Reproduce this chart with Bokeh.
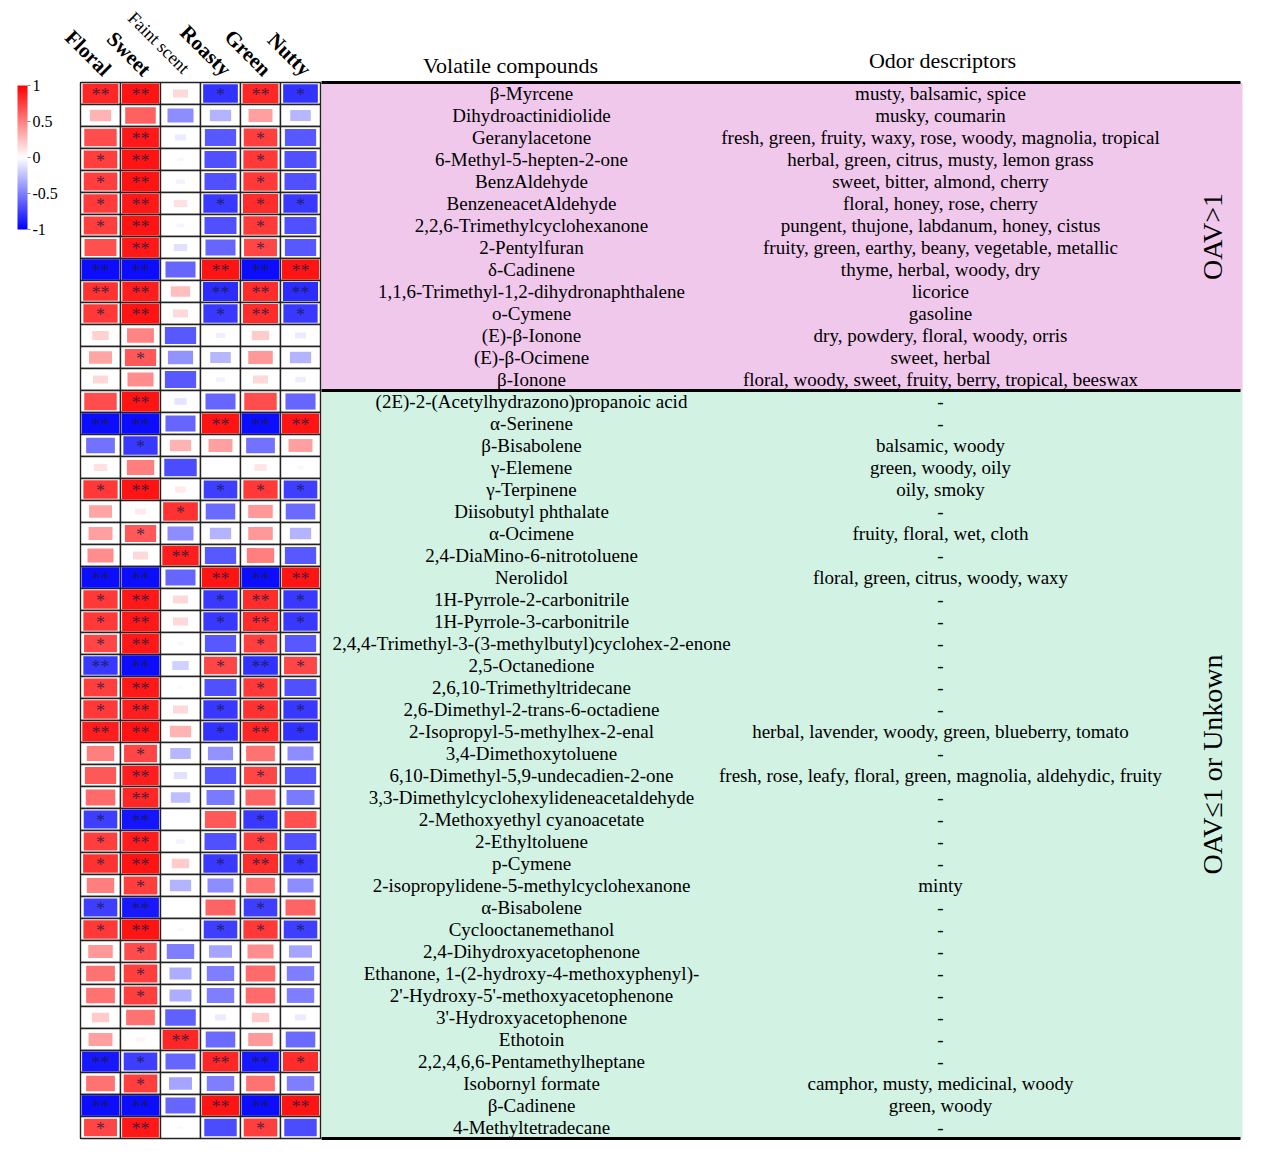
import math
from bokeh.plotting import figure
from bokeh.models import ColumnDataSource, Range1d, LinearColorMapper, ColorBar, FixedTicker
from bokeh.transform import transform
from bokeh.core.properties import value
from bokeh.embed import file_html
from bokeh.resources import INLINE

attributes = ["Floral", "Sweet", "Faint scent", "Roasty", "Green", "Nutty"]

compounds = [
    "β-Myrcene", "Dihydroactinidiolide", "Geranylacetone", "6-Methyl-5-hepten-2-one",
    "BenzAldehyde", "BenzeneacetAldehyde", "2,2,6-Trimethylcyclohexanone", "2-Pentylfuran",
    "δ-Cadinene", "1,1,6-Trimethyl-1,2-dihydronaphthalene", "o-Cymene", "(E)-β-Ionone",
    "(E)-β-Ocimene", "β-Ionone",
    "(2E)-2-(Acetylhydrazono)propanoic acid", "α-Serinene", "β-Bisabolene", "γ-Elemene",
    "γ-Terpinene", "Diisobutyl phthalate", "α-Ocimene", "2,4-DiaMino-6-nitrotoluene",
    "Nerolidol", "1H-Pyrrole-2-carbonitrile", "1H-Pyrrole-3-carbonitrile",
    "2,4,4-Trimethyl-3-(3-methylbutyl)cyclohex-2-enone", "2,5-Octanedione",
    "2,6,10-Trimethyltridecane", "2,6-Dimethyl-2-trans-6-octadiene",
    "2-Isopropyl-5-methylhex-2-enal", "3,4-Dimethoxytoluene",
    "6,10-Dimethyl-5,9-undecadien-2-one", "3,3-Dimethylcyclohexylideneacetaldehyde",
    "2-Methoxyethyl cyanoacetate", "2-Ethyltoluene", "p-Cymene",
    "2-isopropylidene-5-methylcyclohexanone", "α-Bisabolene", "Cyclooctanemethanol",
    "2,4-Dihydroxyacetophenone", "Ethanone, 1-(2-hydroxy-4-methoxyphenyl)-",
    "2'-Hydroxy-5'-methoxyacetophenone", "3'-Hydroxyacetophenone", "Ethotoin",
    "2,2,4,6,6-Pentamethylheptane", "Isobornyl formate", "β-Cadinene", "4-Methyltetradecane",
]

descriptors = [
    "musty, balsamic, spice", "musky, coumarin",
    "fresh, green, fruity, waxy, rose, woody, magnolia, tropical",
    "herbal, green, citrus, musty, lemon grass", "sweet, bitter, almond, cherry",
    "floral, honey, rose, cherry", "pungent, thujone, labdanum, honey, cistus",
    "fruity, green, earthy, beany, vegetable, metallic", "thyme, herbal, woody, dry",
    "licorice", "gasoline", "dry, powdery, floral, woody, orris", "sweet, herbal",
    "floral, woody, sweet, fruity, berry, tropical, beeswax",
    "-", "-", "balsamic, woody", "green, woody, oily", "oily, smoky", "-",
    "fruity, floral, wet, cloth", "-", "floral, green, citrus, woody, waxy", "-", "-", "-",
    "-", "-", "-", "herbal, lavender, woody, green, blueberry, tomato", "-",
    "fresh, rose, leafy, floral, green, magnolia, aldehydic, fruity", "-", "-", "-", "-",
    "minty", "-", "-", "-", "-", "-", "-", "-", "-", "camphor, musty, medicinal, woody",
    "green, woody", "-",
]

floral = [0.85, 0.30, 0.70, 0.75, 0.75, 0.77, 0.75, 0.68, -0.95, 0.80, 0.78, 0.18, 0.35, 0.15,
          0.70, -0.95, -0.55, 0.12, 0.78, 0.35, 0.38, 0.45, -0.95, 0.78, 0.78, 0.72, -0.78,
          0.75, 0.78, 0.88, 0.50, 0.65, 0.58, -0.75, 0.75, 0.80, 0.50, -0.75, 0.78, 0.40,
          0.55, 0.55, 0.20, 0.38, -0.90, 0.55, -0.95, 0.72]
sweet = [0.92, 0.62, 0.90, 0.92, 0.92, 0.90, 0.92, 0.90, -0.95, 0.88, 0.92, 0.48, 0.65, 0.45,
         0.92, -0.95, -0.78, 0.50, 0.92, 0.08, 0.65, 0.15, -0.95, 0.90, 0.90, 0.90, -0.95,
         0.90, 0.88, 0.92, 0.72, 0.88, 0.85, -0.92, 0.88, 0.92, 0.75, -0.90, 0.92, 0.70,
         0.75, 0.75, 0.55, 0.05, -0.75, 0.75, -0.95, 0.90]
faint = [0.15, -0.45, -0.08, -0.03, -0.05, 0.12, -0.04, -0.12, -0.60, 0.25, 0.15, -0.65, -0.42,
         -0.65, -0.10, -0.60, 0.30, -0.70, 0.08, 0.80, -0.45, 0.88, -0.60, 0.15, 0.15, -0.03,
         -0.18, 0.02, 0.15, 0.30, -0.28, -0.12, -0.25, -0.01, -0.05, 0.20, -0.30, 0.00, 0.03,
         -0.50, -0.32, -0.32, -0.62, 0.85, -0.60, -0.35, -0.60, -0.02]
roasty = [-0.80, -0.30, -0.65, -0.68, -0.68, -0.78, -0.68, -0.60, 0.92, -0.82, -0.78, -0.06,
          -0.28, -0.05, -0.60, 0.92, 0.38, -0.01, -0.75, -0.58, -0.30, -0.65, 0.92, -0.78,
          -0.78, -0.65, 0.72, -0.68, -0.78, -0.80, -0.42, -0.65, -0.52, 0.65, -0.68, -0.78,
          -0.45, 0.60, -0.75, -0.35, -0.50, -0.50, -0.08, -0.58, 0.85, -0.50, 0.92, -0.70]
green = [0.85, 0.38, 0.75, 0.78, 0.78, 0.82, 0.78, 0.72, -0.95, 0.82, 0.82, 0.20, 0.40, 0.15,
         0.70, -0.95, -0.55, 0.10, 0.78, 0.40, 0.40, 0.50, -0.95, 0.82, 0.82, 0.75, -0.80,
         0.78, 0.80, 0.85, 0.55, 0.72, 0.60, -0.78, 0.75, 0.82, 0.55, -0.75, 0.78, 0.45,
         0.58, 0.58, 0.20, 0.40, -0.90, 0.55, -0.95, 0.75]
nutty = [-0.80, -0.28, -0.65, -0.68, -0.68, -0.78, -0.68, -0.65, 0.92, -0.82, -0.78, -0.08,
         -0.30, -0.07, -0.60, 0.92, 0.38, -0.03, -0.75, -0.58, -0.30, -0.65, 0.92, -0.78,
         -0.78, -0.65, 0.72, -0.68, -0.78, -0.80, -0.45, -0.65, -0.52, 0.68, -0.68, -0.78,
         -0.45, 0.60, -0.75, -0.35, -0.50, -0.50, -0.08, -0.58, 0.82, -0.50, 0.92, -0.70]

floral_sig = ["**", "", "", "*", "*", "*", "*", "", "**", "**", "*", "", "", "",
              "", "**", "", "", "*", "", "", "", "**", "*", "*", "*", "**", "*", "*", "**",
              "", "", "", "*", "*", "*", "", "*", "*", "", "", "", "", "", "**", "", "**", "*"]
sweet_sig = ["**", "", "**", "**", "**", "**", "**", "**", "**", "**", "**", "", "*", "",
             "**", "**", "*", "", "**", "", "*", "", "**", "**", "**", "**", "**", "**", "**", "**",
             "*", "**", "**", "**", "**", "**", "*", "**", "**", "*", "*", "*", "", "", "*", "*",
             "**", "**"]
faint_sig = ["", "", "", "", "", "", "", "", "", "", "", "", "", "",
             "", "", "", "", "", "*", "", "**", "", "", "", "", "", "", "", "",
             "", "", "", "", "", "", "", "", "", "", "", "", "", "**", "", "", "", ""]
roasty_sig = ["*", "", "", "", "", "*", "", "", "**", "**", "*", "", "", "",
              "", "**", "", "", "*", "", "", "", "**", "*", "*", "", "*", "", "*", "*",
              "", "", "", "", "", "*", "", "", "*", "", "", "", "", "", "**", "", "**", ""]
green_sig = ["**", "", "*", "*", "*", "*", "*", "*", "**", "**", "**", "", "", "",
             "", "**", "", "", "*", "", "", "", "**", "**", "**", "*", "**", "*", "*", "**",
             "", "*", "", "*", "*", "**", "", "*", "*", "", "", "", "", "", "**", "", "**", "*"]
nutty_sig = ["*", "", "", "", "", "*", "", "", "**", "**", "*", "", "", "",
             "", "**", "", "", "*", "", "", "", "**", "*", "*", "", "*", "", "*", "*",
             "", "", "", "", "", "*", "", "", "*", "", "", "", "", "", "*", "", "**", ""]

groups = ["OAV>1", "OAV≤1 or Unkown"]
group_sizes = [14, 34]

# ---------------- layout (image pixel coordinates) ----------------
W, H = 1252, 1147
X0, Y0, CW, CH = 80, 82, 40, 22
TABLE_L, TABLE_R = 321, 1242
NAME_X, DESC_X, GROUP_X = 531, 940, 1212
FONT = value("Liberation Serif")

columns = [floral, sweet, faint, roasty, green, nutty]
sigs = [floral_sig, sweet_sig, faint_sig, roasty_sig, green_sig, nutty_sig]

xs, ys, vs, ss, ws, hs = [], [], [], [], [], []
for j, (col, sg) in enumerate(zip(columns, sigs)):
    for i, v in enumerate(col):
        xs.append(X0 + CW * (j + 0.5))
        ys.append(Y0 + CH * (i + 0.5))
        vs.append(v)
        ss.append(sg[i])
        k = math.sqrt(abs(v))
        ws.append(CW * 0.97 * k)
        hs.append(CH * 0.95 * k)
src = ColumnDataSource(dict(x=xs, y=ys, v=vs, s=ss, w=ws, h=hs,
                            sy=[y + 1.5 for y in ys]))


def lerp(a, b, t):
    return int(round(a + (b - a) * t))


palette = []
N = 128
for n in range(N):
    t = n / (N - 1)
    palette.append("#%02x%02x%02x" % (lerp(0, 255, t), lerp(0, 255, t), 255))
for n in range(1, N):
    t = n / (N - 1)
    palette.append("#%02x%02x%02x" % (255, lerp(255, 0, t), lerp(255, 0, t)))
mapper = LinearColorMapper(palette=palette, low=-1, high=1)

p = figure(width=W, height=H, x_range=Range1d(0, W), y_range=Range1d(H, 0),
           output_backend="svg", toolbar_location=None, min_border=0)
p.axis.visible = False
p.grid.visible = False
p.outline_line_color = None
p.background_fill_color = "white"

# group backgrounds
starts = [Y0]
for g in group_sizes:
    starts.append(starts[-1] + CH * g)
p.quad(left=TABLE_L, right=TABLE_R, top=starts[:-1], bottom=starts[1:],
       fill_color=["#F0C8EC", "#D2F2E4"], line_color=None)
p.segment(x0=TABLE_L, x1=TABLE_R - 2, y0=starts, y1=starts, line_color="black", line_width=3)

# heatmap cells
p.rect("x", "y", width=CW, height=CH, source=src, fill_color="white",
       line_color="#222222", line_width=1.4)
p.rect("x", "y", width="w", height="h", source=src,
       fill_color=transform("v", mapper), line_color=None)
p.text("x", "sy", text="s", source=src, text_align="center", text_baseline="middle",
       text_font=FONT, text_font_size="18px", text_color="#1a1a40", text_alpha=0.8)

# attribute headers
hx = [X0 + CW * (j + 0.5) + 7 for j in range(len(attributes))]
bold_idx = [j for j, a in enumerate(attributes) if a != "Faint scent"]
thin_idx = [j for j, a in enumerate(attributes) if a == "Faint scent"]
p.text(x=[hx[j] for j in bold_idx], y=[72] * len(bold_idx),
       text=[attributes[j] for j in bold_idx], angle=-math.pi / 4,
       text_align="right", text_baseline="middle", text_font=FONT,
       text_font_size="21px", text_font_style="bold", text_color="black")
p.text(x=[hx[j] - 1 for j in thin_idx], y=[70] * len(thin_idx),
       text=[attributes[j] for j in thin_idx], angle=-math.pi / 4,
       text_align="right", text_baseline="middle", text_font=FONT,
       text_font_size="18px", text_color="black")

# table texts
rows_y = [Y0 + CH * (i + 0.5) for i in range(len(compounds))]
p.text(x=NAME_X, y=rows_y, text=compounds, text_align="center", text_baseline="middle",
       text_font=FONT, text_font_size="19px", text_color="black")
p.text(x=DESC_X, y=rows_y, text=descriptors, text_align="center", text_baseline="middle",
       text_font=FONT, text_font_size="19px", text_color="black")
p.text(x=[510, 942], y=[65, 60], text=["Volatile compounds", "Odor descriptors"],
       text_align="center", text_baseline="middle", text_font=FONT,
       text_font_size="22px", text_color="black")
p.text(x=GROUP_X, y=[(a + b) / 2 for a, b in zip(starts[:-1], starts[1:])], text=groups,
       angle=math.pi / 2, text_align="center", text_baseline="middle", text_font=FONT,
       text_font_size="28px", text_color="black")

cb = ColorBar(color_mapper=mapper, ticker=FixedTicker(ticks=[-1, -0.5, 0, 0.5, 1]),
              major_label_overrides={1: "1", 0.5: "0.5", 0: "0", -0.5: "-0.5", -1: "-1"},
              width=10, height=144, location=(17, H - 229), padding=0,
              major_label_text_font="Liberation Serif", major_label_text_font_size="16px",
              major_label_text_color="black", major_tick_in=0, major_tick_out=3,
              major_tick_line_color="#888888", bar_line_color=None,
              background_fill_alpha=0, border_line_color=None, label_standoff=2)
p.add_layout(cb)

open("out.html", "w").write(file_html(p, INLINE))
